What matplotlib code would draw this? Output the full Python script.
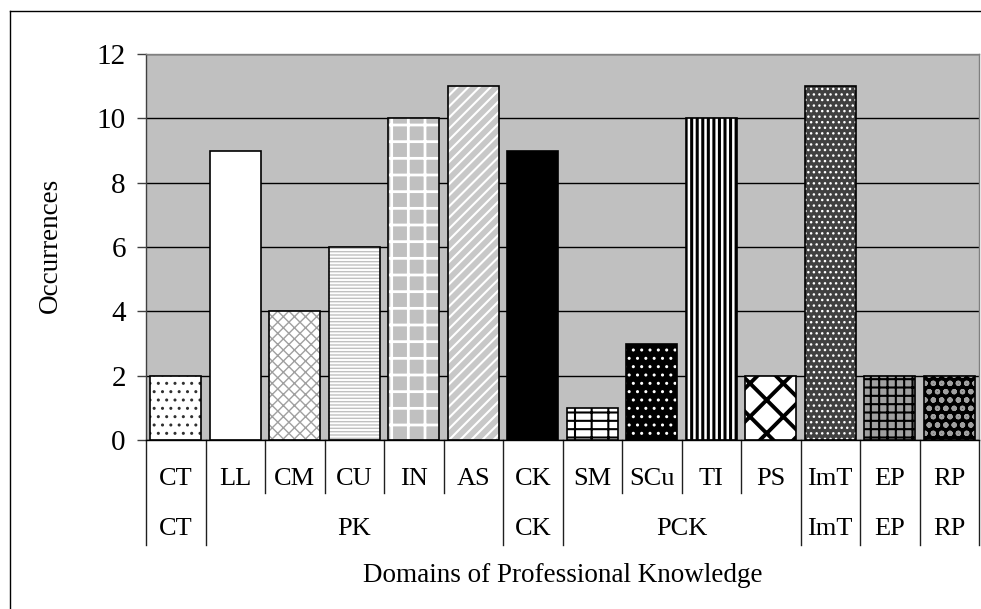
import matplotlib
matplotlib.use("Agg")
import matplotlib.pyplot as plt
import matplotlib.transforms as mtransforms
from matplotlib.lines import Line2D
import numpy as np

# chart data
domains = ["CT", "LL", "CM", "CU", "IN", "AS", "CK",
           "SM", "SCu", "TI", "PS", "ImT", "EP", "RP"]
occurrences = [2, 9, 4, 6, 10, 11, 9, 1, 3, 10, 2, 11, 2, 2]
groups = ["CT", "PK", "CK", "PCK", "ImT", "EP", "RP"]
group_sizes = [1, 5, 1, 4, 1, 1, 1]
y_ticks = [0, 2, 4, 6, 8, 10, 12]

# fill per bar: face colour, hatch, hatch colour, hatch line width
fills = [
    ("white", "..", "#303030", 1.0),
    ("white", "", "white", 1.0),
    ("white", "xxx", "#a0a0a0", 1.0),
    ("white", "-----", "#c0c0c0", 1.0),
    ("#c0c0c0", "+", "white", 2.0),
    ("#c8c8c8", "///", "white", 1.5),
    ("black", "", "black", 1.0),
    ("white", "--|", "black", 1.5),
    ("black", "..", "white", 1.0),
    ("white", "|||", "black", 2.2),
    ("white", "x", "black", 2.8),
    ("#404040", "...", "white", 1.0),
    ("#a0a0a0", "++", "black", 1.5),
    ("black", "oo", "#a0a0a0", 1.5),
]

FONT = "Liberation Serif"
plt.rcParams["font.family"] = FONT

fig = plt.figure(figsize=(9.81, 6.09), dpi=100)
ax = fig.add_axes([146 / 981, 1 - 440 / 609, 833 / 981, 386 / 609])
ax.set_facecolor("#c0c0c0")

x = np.arange(len(domains))

# bars: hatched fill first, black outline on top
for xi, val, (face, hatch, hcol, hlw) in zip(x, occurrences, fills):
    with plt.rc_context({"hatch.linewidth": hlw}):
        b = ax.bar(xi, val, width=0.85, color=face, hatch=hatch,
                   edgecolor=hcol, linewidth=0, zorder=2)[0]
    if hasattr(b, "set_hatch_linewidth"):
        b.set_hatch_linewidth(hlw)
ax.bar(x, occurrences, width=0.85, facecolor="none", edgecolor="black",
       linewidth=1.2, zorder=3)

ax.set_xlim(-0.5, len(domains) - 0.5)
ax.set_ylim(0, 12)
ax.set_yticks(y_ticks)
ax.set_yticklabels([str(t) for t in y_ticks], fontsize=21)
ax.tick_params(axis="y", length=6.5, width=1, pad=8, color="#404040")
ax.set_xticks([])
ax.yaxis.grid(True, color="black", linewidth=1)
ax.set_axisbelow(True)

ax.spines["left"].set_color("#404040")
ax.spines["bottom"].set_color("black")
ax.spines["top"].set_color("#808080")
ax.spines["right"].set_color("#808080")
for s in ax.spines.values():
    s.set_linewidth(1)

# two level category axis
trans = mtransforms.blended_transform_factory(ax.transData, ax.transAxes)
for xi, name in zip(x, domains):
    ax.text(xi, -0.101, name, transform=trans, ha="center", va="center",
            fontsize=19)

edges = np.cumsum([0] + group_sizes)
for b in range(len(domains) + 1):
    low = -0.272 if b in edges else -0.1373
    ax.add_line(Line2D([b - 0.5, b - 0.5], [0, low], transform=trans,
                       color="#202020", linewidth=1, clip_on=False))

for name, start, size in zip(groups, edges[:-1], group_sizes):
    mid = start + size / 2 - 0.5
    ax.text(mid, -0.2306, name, transform=trans, ha="center", va="center",
            fontsize=19)

ax.text(0.5, -0.35, "Domains of Professional Knowledge", transform=ax.transAxes,
        ha="center", va="center", fontsize=19.5)
fig.text(50 / 981, 1 - 245 / 609, "Occurrences", rotation=90,
         ha="center", va="center", fontsize=19.5)

# outer frame (only left and top are inside the picture)
fig.add_artist(Line2D([10 / 981, 10 / 981], [0, 1 - 11 / 609],
                      transform=fig.transFigure, color="black", linewidth=1))
fig.add_artist(Line2D([10 / 981, 1], [1 - 11 / 609, 1 - 11 / 609],
                      transform=fig.transFigure, color="black", linewidth=1))

fig.savefig("out.png", dpi=100)
